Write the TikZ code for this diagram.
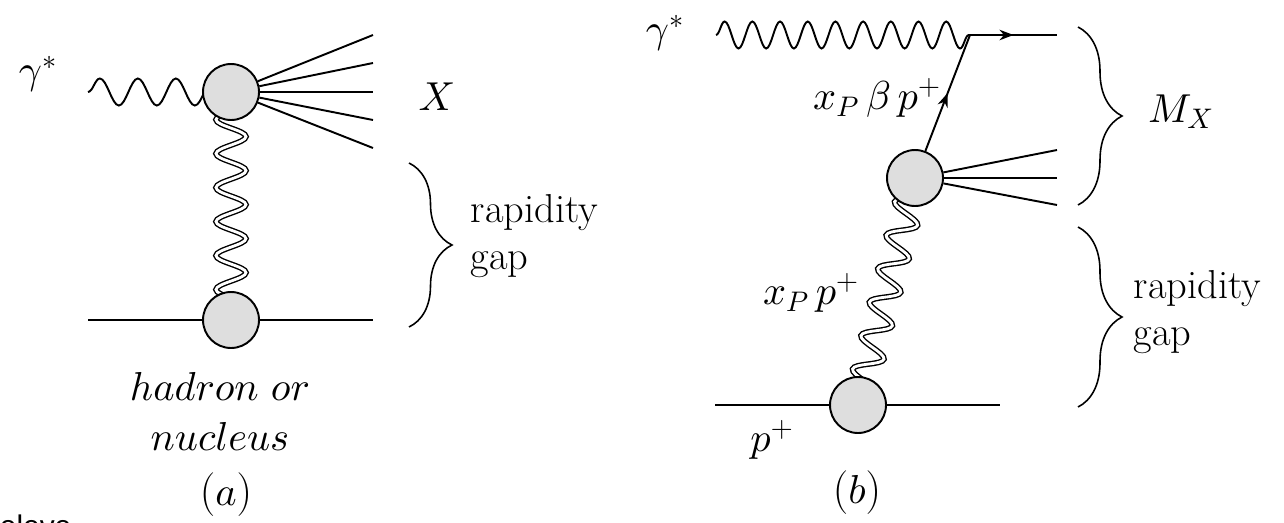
\documentclass[tikz,border=0pt]{standalone}
\usepackage{fontspec}
\usetikzlibrary{decorations.pathmorphing, decorations.pathreplacing, decorations.markings, arrows.meta, backgrounds}
\newfontfamily\eleveFont{Liberation Sans}
\DeclareFontFamily{OML}{cmmx}{\skewchar\font'177}
\DeclareFontShape{OML}{cmmx}{m}{it}{<->cmmi10}{}
\DeclareSymbolFont{letters}{OML}{cmmx}{m}{it}
\DeclareFontFamily{OT1}{cmrx}{\hyphenchar\font45}
\DeclareFontShape{OT1}{cmrx}{m}{n}{<->cmr10}{}
\DeclareSymbolFont{operators}{OT1}{cmrx}{m}{n}
\DeclareFontFamily{OMS}{cmsyx}{\skewchar\font'60}
\DeclareFontShape{OMS}{cmsyx}{m}{n}{<->cmsy10}{}
\DeclareSymbolFont{symbols}{OMS}{cmsyx}{m}{n}
\definecolor{blobGray}{RGB}{222, 222, 222}

\begin{document}
\begin{tikzpicture}[x=0.02cm, y=0.02cm, line width=1.1pt,
    every node/.style={font=\fontsize{23}{27}\selectfont},
    blob/.style={circle, draw, fill=blobGray, minimum size=1.12cm, inner sep=0pt},
    photonA/.style={line width=1.1pt, decorate, decoration={snake, segment length=0.76cm, amplitude=0.27cm}},
    photonB/.style={decorate, decoration={snake, segment length=0.554cm, amplitude=0.27cm}},
    pomeronA/.style={double, double distance=1.6pt, line width=0.8pt, decorate,
      decoration={snake, segment length=0.68cm, amplitude=0.3cm}},
    pomeronB/.style={double, double distance=1.6pt, line width=0.8pt, decorate,
      decoration={snake, segment length=0.69cm, amplitude=0.28cm}},
    fermion/.style={postaction={decorate}, decoration={markings,
      mark=at position 0.5 with {\arrow{Stealth[length=8pt, width=6pt]}}}},
    gapbrace/.style={line width=0.9pt, decorate, decoration={brace, amplitude=#1}}]
        \useasboundingbox (0,0) rectangle (1284,522);
        % (a)
        \node (gA) at (38,448) {$\gamma^*$};
        \coordinate (pA) at (88,430);
        \node[blob] (blobA) at (231,430) {};
        \node[blob] (blobA2) at (231,202) {};
        \begin{scope}[on background layer]
          \draw[photonA] (pA) -- (blobA.center);
          \draw[pomeronA] (blobA.center) -- (blobA2.center);
        \end{scope}
        \foreach \y in {487,459,430,402,374} {
          \coordinate (xA\y) at (373,\y);
          \draw (blobA) -- (xA\y);
        }
        \coordinate (hA1) at (88,202);
        \coordinate (hA2) at (373,202);
        \draw (hA1) -- (blobA2) -- (hA2);
        \node (lX) at (437,425) {$X$};
        \coordinate (bA1) at (409,359);
        \coordinate (bA2) at (409,195);
        \draw[gapbrace=0.86cm] (bA1) -- (bA2);
        \node[align=left, anchor=west] (gapA) at (464,286) {rapidity\\gap};
        \node[align=center, font=\fontsize{23}{28.5}\selectfont] (hadA) at (220,111) {$hadron\ or$\\$nucleus$};
        \node (capA) at (226,27) {$(a)$};
        % (b)
        \node (gB) at (665,489) {$\gamma^*$};
        \coordinate (pB) at (716,487);
        \coordinate (vB) at (970,487);
        \coordinate (qB) at (1057,487);
        \node[blob] (blobB) at (915,344) {};
        \node[blob] (blobB2) at (858,117) {};
        \draw[photonB] (pB) -- (vB);
        \draw[fermion] (vB) -- (qB);
        \draw[fermion] (blobB) -- (vB);
        \begin{scope}[on background layer]
          \draw[pomeronB] (blobB.center) -- (blobB2.center);
        \end{scope}
        \foreach \y in {372,344,317} {
          \coordinate (xB\y) at (1057,\y);
          \draw (blobB) -- (xB\y);
        }
        \coordinate (hB1) at (715,117);
        \coordinate (hB2) at (1000,117);
        \draw (hB1) -- (blobB2) -- (hB2);
        \node (lq) at (877,424) {$x_P\,\beta\,p^+$};
        \node (lpom) at (811,229) {$x_P\,p^+$};
        \node (lp) at (772,82) {$p^+$};
        \coordinate (bB1) at (1078,495);
        \coordinate (bB2) at (1078,317);
        \coordinate (bB3) at (1078,295);
        \coordinate (bB4) at (1078,115);
        \draw[gapbrace=0.88cm] (bB1) -- (bB2);
        \draw[gapbrace=0.88cm] (bB3) -- (bB4);
        \node (lMX) at (1181,410) {$M_X$};
        \node[align=left, anchor=west] (gapB) at (1127,210) {rapidity\\gap};
        \node (capB) at (857,29) {$(b)$};
        \node[anchor=base west, inner sep=0pt] (cut) at (-1,-14) {\eleveFont\fontsize{17}{20}\selectfont eleve};
      \end{tikzpicture}
\end{document}
